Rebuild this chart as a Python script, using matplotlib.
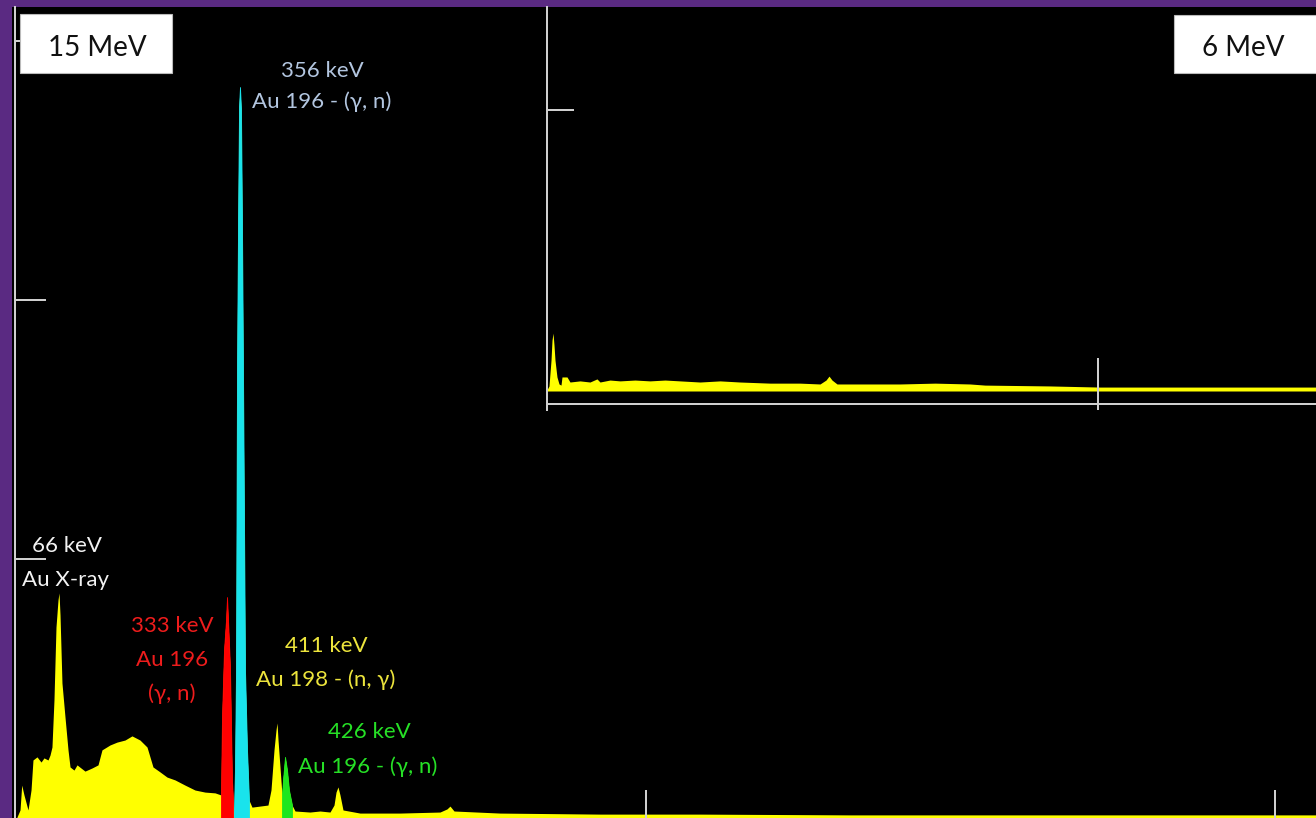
import numpy as np
import matplotlib
matplotlib.use("Agg")
import matplotlib.pyplot as plt
from matplotlib.patches import Rectangle
from matplotlib.ticker import FixedLocator

# ---------------- data ----------------
# 15 MeV spectrum (energy keV, counts)
main_energy = np.array([
    0, 4.8, 7.5, 11.1, 17.5, 22.3, 25.4, 31.8, 38.2, 42.9, 49.3, 52.5, 55.6, 58.8, 62.0,
    65.2, 66.8, 68.4, 71.5, 76.3, 81.1, 84.3, 90.6, 95.4, 108.1, 119.2, 128.8, 135.1, 147.9,
    159.0, 171.7, 182.8, 195.5, 206.7, 216.2, 227.3, 238.5, 251.2, 267.1, 283.0, 298.9,
    314.8, 324.3, 325.9, 329.1, 332.3, 333.9, 335.5, 338.6, 341.8, 343.4, 345.0, 346.6,
    348.2, 349.8, 351.4, 353.0, 354.5, 356.1, 357.7, 359.3, 360.9, 362.5, 365.7, 368.8,
    373.6, 386.3, 399.0, 403.8, 408.6, 411.8, 413.4, 415.0, 418.1, 421.3, 422.9, 426.1,
    429.3, 432.4, 437.2, 442.0, 465.8, 481.7, 497.6, 504.0, 507.2, 510.3, 513.5, 518.3,
    545.3, 608.9, 672.5, 683.6, 688.4, 694.8, 767.9, 926.9, 1085.8, 1324.3, 1562.8,
    1801.3, 2065.2])
main_counts = np.array([
    4, 31, 127, 89, 31, 108, 224, 236, 216, 232, 224, 243, 274, 456, 737,
    842, 869, 784, 521, 390, 263, 197, 185, 205, 181, 193, 205, 263, 282,
    293, 301, 317, 301, 274, 197, 178, 158, 147, 127, 108, 100,
    97, 89, 390, 649, 764, 853, 764, 583, 147, 69, 23, 197,
    571, 1730, 2290, 2745, 2822, 2734, 2290, 1730, 1151, 571, 263, 69,
    42, 46, 50, 108, 263, 340, 367, 301, 197, 89, 147, 236,
    185, 108, 50, 27, 23, 27, 23, 50, 100, 120, 89, 31,
    19, 19, 23, 35, 46, 27, 19, 15, 15, 12, 12,
    12, 12])

# highlighted peak regions (keV)
region_lo = [324.3, 345.0, 421.3]
region_hi = [343.4, 368.8, 437.2]
region_colors = ["#ff0000", "#19e3ec", "#1ee61e"]

# 6 MeV spectrum (inset)
inset_energy = np.array([
    0, 3.6, 7.3, 9.1, 10.9, 12.7, 14.5, 18.1, 21.8, 25.4, 27.2, 36.3, 41.7, 59.9, 78.0,
    90.7, 96.2, 114.3, 132.5, 159.7, 186.9, 214.2, 241.4, 277.7, 314.0, 350.3, 404.7,
    459.2, 495.5, 506.4, 511.8, 517.2, 526.3, 586.2, 640.7, 704.2, 767.7, 794.9, 912.9,
    1003.6, 1185.1, 1395.6])
inset_counts = np.array([
    4, 18, 110, 181, 206, 164, 110, 50, 25, 21, 50, 50, 32, 36, 32,
    43, 32, 39, 36, 39, 36, 39, 36, 32, 36, 32, 28,
    28, 25, 39, 53, 39, 25, 25, 25, 28, 25, 21, 18,
    14, 14, 14])

main_yticks = [1000, 2000, 3000]
main_xticks = [1000, 2000]
inset_yticks = [1000]
inset_xticks = [0, 1000]

# labels: (text, x_px, baseline_px, color)
labels = [
    ("356 keV", 322, 77, "#b3c6e0"),
    ("Au 196 - (γ, n)", 322, 108, "#b3c6e0"),
    ("66 keV", 67, 552, "#f2f2f2"),
    ("Au X-ray", 66, 586, "#f2f2f2"),
    ("333 keV", 172, 632, "#ee1c1c"),
    ("Au 196", 172, 666, "#ee1c1c"),
    ("(γ, n)", 172, 700, "#ee1c1c"),
    ("411 keV", 326, 652, "#ece43c"),
    ("Au 198 - (n, γ)", 326, 686, "#ece43c"),
    ("426 keV", 369, 738, "#26e026"),
    ("Au 196 - (γ, n)", 368, 773, "#26e026"),
]

# ---------------- figure ----------------
W, H = 1316, 818
fig = plt.figure(figsize=(W / 100, H / 100), dpi=100)
fig.patch.set_facecolor("#5a2a82")
plt.rcParams["font.family"] = ["Lato", "DejaVu Sans"]

fig.patches.append(Rectangle((12 / W, 0), 1 - 12 / W, (H - 7) / H, transform=fig.transFigure,
                             facecolor="black", edgecolor="none", zorder=-1))

spine_c = "#cfcfcf"
lw = 1.44

# main axes
ax = fig.add_axes([15 / W, 0, (W - 15) / W, (H - 7) / H])
ax.set_facecolor("black")
ax.set_xlim(-3.18, 2065.2)
ax.set_ylim(0, 3131)
ax.fill_between(main_energy, main_counts, color="#ffff00", lw=0)
for lo, hi, c in zip(region_lo, region_hi, region_colors):
    m = (main_energy >= lo) & (main_energy <= hi)
    ax.fill_between(main_energy[m], main_counts[m], color=c, lw=0.6, edgecolor=c)
for s in ["top", "right", "bottom"]:
    ax.spines[s].set_visible(False)
ax.spines["left"].set_color(spine_c)
ax.spines["left"].set_linewidth(lw)
ax.set_yticks(main_yticks)
ax.set_xticks(main_xticks)
ax.tick_params(axis="y", direction="in", length=22.3, width=lw, color=spine_c, labelleft=False)
ax.tick_params(axis="x", direction="in", length=20, width=lw, color=spine_c, labelbottom=False)

# inset axes
ix = fig.add_axes([547 / W, (H - 410) / H, (W - 547) / W, (410 - 7) / H])
ix.set_facecolor("black")
ix.set_xlim(0, 1395.6)
ix.set_ylim(-67.6, 1366.7)
ix.fill_between(inset_energy, inset_counts, color="#ffff00", lw=0)
for s in ["top", "right"]:
    ix.spines[s].set_visible(False)
ix.spines["bottom"].set_position(("data", -46.3))
for s in ["left", "bottom"]:
    ix.spines[s].set_color(spine_c)
    ix.spines[s].set_linewidth(lw)
ix.set_yticks(inset_yticks)
ix.set_xticks(inset_xticks)
ix.xaxis.remove_overlapping_locs = False
ix.xaxis.set_minor_locator(FixedLocator(inset_xticks))
ix.tick_params(axis="y", direction="in", length=19.4, width=lw, color=spine_c, labelleft=False)
ix.tick_params(axis="x", which="major", direction="in", length=33, width=lw, color=spine_c,
               labelbottom=False)
ix.tick_params(axis="x", which="minor", direction="out", length=4.3, width=lw, color=spine_c,
               labelbottom=False)

# overlay for text in pixel coordinates
ov = fig.add_axes([0, 0, 1, 1], zorder=10)
ov.set_xlim(0, W)
ov.set_ylim(H, 0)
ov.axis("off")
ov.patch.set_alpha(0)

ov.add_patch(Rectangle((20, 14), 152, 59, facecolor="white", edgecolor="#bbbbbb", lw=0.8))
ov.add_patch(Rectangle((1174, 15), 150, 58, facecolor="white", edgecolor="#bbbbbb", lw=0.8))
ov.text(97, 56, "15 MeV", ha="center", va="baseline", fontsize=20, color="#111111")
ov.text(1243, 56, "6 MeV", ha="center", va="baseline", fontsize=20, color="#111111")

for txt, x, y, c in labels:
    ov.text(x, y, txt, ha="center", va="baseline", fontsize=16, color=c)

fig.savefig("out.png", dpi=100, facecolor=fig.get_facecolor())
